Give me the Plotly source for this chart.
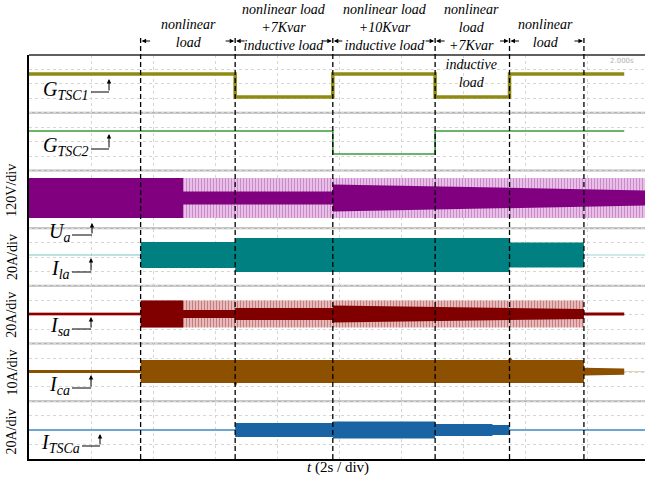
import plotly.graph_objects as go

# ---------------- data ----------------
T_MAX = 19.87                      # visible time span, s (2 s/div)
event_t = [3.6, 6.65, 9.8, 13.1, 15.5, 17.9]
interval_text = [
    "nonlinear<br>load",
    "nonlinear load<br>+7Kvar<br>inductive load",
    "nonlinear load<br>+10Kvar<br>inductive load",
    "nonlinear<br>load<br>+7Kvar<br>inductive<br>load",
    "nonlinear<br>load",
]
scale_labels = ["120V/div", "20A/div", "20A/div", "10A/div", "20A/div"]
scale_centers = [18.6, 14.0, 10.0, 6.0, 1.9]

# gate signals (step levels, 4 y-units per channel band)
g1_t = [0, 6.65, 9.8, 13.1, 15.5, 19.2]
g1_v = [26.68, 25.09, 26.68, 25.09, 26.68, 26.68]
g2_t = [0, 9.8, 13.1, 19.2]
g2_v = [22.73, 21.14, 22.73, 22.73]

# U_a envelope
ua_center = 18.09
ua_t = [0, 4.97, 4.97, 9.8, 9.8, 19.87]
ua_env = [1.39, 1.39, 1.39, 1.39, 1.39, 1.39]
ua_core = [1.39, 1.39, 0.45, 0.45, 0.94, 0.52]

# I_la envelope
ila_center = 14.14
ila_t = [3.6, 6.65, 6.65, 15.5, 15.5, 17.9]
ila_amp = [0.90, 0.90, 1.18, 1.18, 0.87, 0.87]

# I_sa envelope
isa_center = 10.05
isa_t = [3.6, 4.97, 4.97, 6.65, 6.65, 9.8, 9.8, 17.9]
isa_env = [0.94, 0.94, 0.94, 0.94, 0.94, 0.94, 0.94, 0.94]
isa_core = [0.94, 0.94, 0.28, 0.28, 0.42, 0.42, 0.59, 0.35]
isa_tail_t = [17.9, 19.2]
isa_tail_amp = [0.11, 0.10]

# I_ca envelope
ica_center = 6.06
ica_t = [3.6, 6.6, 6.66, 6.72, 15.45, 15.52, 15.6, 17.9]
ica_up = [0.80, 0.80, 0.80, 0.80, 0.80, 1.00, 0.80, 0.80]
ica_lo = [0.80, 0.80, 1.07, 0.80, 0.80, 0.80, 0.80, 0.80]
ica_tail_t = [17.9, 19.2]
ica_tail_amp = [0.27, 0.22]

# I_TSCa envelope
it_center = 2.01
it_t = [6.65, 9.8, 9.8, 13.1, 13.1, 14.95, 14.95, 15.5]
it_amp = [0.49, 0.49, 0.59, 0.59, 0.42, 0.42, 0.35, 0.35]

# ---------------- helpers ----------------
L, T, B, W, H = 29, 55, 25, 645, 484
PLOT_H = H - T - B
Y_MAX = 28


def tx(px):
    return (px - L) / ((W - L) / T_MAX)


def ty(py):
    return (T + PLOT_H - py) / (PLOT_H / Y_MAX)


def band(t, center, up, lo=None):
    lo = up if lo is None else lo
    xs = list(t) + list(t)[::-1]
    ys = [center + a for a in up] + [center - a for a in lo][::-1]
    return xs, ys


SERIF = "Liberation Serif, Times New Roman, serif"
fig = go.Figure()


def poly(xs, ys, color, pattern=None):
    kw = dict(x=xs, y=ys, mode="lines", fill="toself", fillcolor=color,
              line=dict(width=0, color=color), hoverinfo="skip", showlegend=False)
    if pattern:
        kw["fillpattern"] = pattern
    fig.add_trace(go.Scatter(**kw))


def line(xs, ys, color, width, shape="linear"):
    fig.add_trace(go.Scatter(x=xs, y=ys, mode="lines", hoverinfo="skip", showlegend=False,
                             line=dict(color=color, width=width, shape=shape)))


# gate signals
line(g1_t, g1_v, "#8f8a12", 3.5, "hv")
line(g2_t, g2_v, "#3d9a3d", 1.6, "hv")

# U_a
xs, ys = band(ua_t, ua_center, ua_env)
poly(xs, ys, "#e6bde6", dict(shape="|", bgcolor="#ecc9ec", fgcolor="#a64ea6", size=3, solidity=0.45))
xs, ys = band(ua_t, ua_center, ua_core)
poly(xs, ys, "#800080")

# I_la
line([0, event_t[0]], [ila_center, ila_center], "#7fc4c4", 1.2)
line([event_t[-1], T_MAX], [ila_center, ila_center], "#9fd2d2", 1.2)
xs, ys = band(ila_t, ila_center, ila_amp)
poly(xs, ys, "#008080")

# I_sa
line([0, event_t[0]], [isa_center, isa_center], "#e3a6a6", 4)
line([0, event_t[0]], [isa_center, isa_center], "#8a0000", 1.8)
xs, ys = band(isa_t, isa_center, isa_env)
poly(xs, ys, "#e2b0b0", dict(shape="|", bgcolor="#ecc6c6", fgcolor="#a23434", size=3, solidity=0.45))
xs, ys = band(isa_t, isa_center, isa_core)
poly(xs, ys, "#800000")
xs, ys = band(isa_tail_t, isa_center, isa_tail_amp)
poly(xs, ys, "#8a0000")

# I_ca
line([0, event_t[0]], [ica_center, ica_center], "#8c5000", 3)
line([19.2, T_MAX], [ica_center, ica_center], "#e2cfb8", 1)
xs, ys = band(ica_t, ica_center, ica_up, ica_lo)
poly(xs, ys, "#8c5000")
xs, ys = band(ica_tail_t, ica_center, ica_tail_amp)
poly(xs, ys, "#8c5000")

# I_TSCa
line([0, event_t[1]], [it_center, it_center], "#6fa5cf", 2)
line([it_t[-1], T_MAX], [it_center, it_center], "#6fa5cf", 2)
xs, ys = band(it_t, it_center, it_amp)
poly(xs, ys, "#1a64a3")

# ---------------- grid, borders, markers ----------------
shapes = []
for k in range(1, 7):
    shapes.append(dict(type="line", xref="paper", yref="y", x0=0, x1=1, y0=4 * k, y1=4 * k,
                       line=dict(color="#b4b4b4", width=2), layer="below"))
shapes.append(dict(type="line", xref="paper", yref="paper", x0=0, x1=1, y0=1, y1=1,
                   line=dict(color="#606060", width=2)))
for t in event_t:
    shapes.append(dict(type="line", xref="x", yref="paper", x0=t, x1=t, y0=0,
                       y1=(T + PLOT_H - 35) / PLOT_H,
                       line=dict(color="black", width=1.3, dash="5px,3px")))

annotations = []
# interval arrows
ya = (T + PLOT_H - 41) / PLOT_H
for i, t in enumerate(event_t):
    if i > 0:
        annotations.append(dict(x=t, y=ya, xref="x", yref="paper", text="", showarrow=True,
                                ax=-11, ay=0, arrowhead=2, arrowsize=0.9, arrowwidth=1,
                                arrowcolor="black", standoff=1))
    if i < len(event_t) - 1:
        annotations.append(dict(x=t, y=ya, xref="x", yref="paper", text="", showarrow=True,
                                ax=11, ay=0, arrowhead=2, arrowsize=0.9, arrowwidth=1,
                                arrowcolor="black", standoff=1))
# interval texts
text_px = [(188, 34), (284, 28), (385, 28), (471, 46), (545, 34)]
for txt, (px, py) in zip(interval_text, text_px):
    annotations.append(dict(x=tx(px), y=(T + PLOT_H - py) / PLOT_H, xref="x", yref="paper",
                            text="<i>" + txt + "</i>", showarrow=False, align="center",
                            font=dict(family=SERIF, size=14, color="black"),
                            xanchor="center", yanchor="middle"))

# channel labels with bent arrows
labels = [
    ("G<sub>TSC1</sub>", 91, 90, 109, 92, 79),
    ("G<sub>TSC2</sub>", 91, 146, 109, 149, 134),
    ("U<sub>a</sub>", 72, 232, 92, 235, 223),
    ("I<sub>la</sub>", 72, 269, 91, 272, 258),
    ("I<sub>sa</sub>", 72, 326, 91, 329, 317),
    ("I<sub>ca</sub>", 72, 385, 91, 388, 375),
    ("I<sub>TSCa</sub>", 82, 443, 100, 446, 434),
]
for txt, xr, yc, cx, cy, tip in labels:
    annotations.append(dict(x=tx(xr), y=ty(yc), xref="x", yref="y", text="<i>" + txt + "</i>",
                            showarrow=False, xanchor="right", yanchor="middle",
                            font=dict(family=SERIF, size=20, color="black")))
    shapes.append(dict(type="line", xref="x", yref="y", x0=tx(xr), x1=tx(cx), y0=ty(cy), y1=ty(cy),
                       line=dict(color="black", width=1)))
    annotations.append(dict(x=tx(cx), y=ty(tip), xref="x", yref="y", text="", showarrow=True,
                            ax=0, ay=cy - tip, arrowhead=2, arrowsize=0.9, arrowwidth=1,
                            arrowcolor="black", standoff=0))

# scale labels
for txt, yc in zip(scale_labels, scale_centers):
    annotations.append(dict(x=(12 - L) / (W - L), y=yc, xref="paper", yref="y", text=txt,
                            textangle=-90, showarrow=False, xanchor="center", yanchor="middle",
                            font=dict(family=SERIF, size=14, color="black")))

# axis title and scope readout
annotations.append(dict(x=(338 - L) / (W - L), y=-8 / PLOT_H, xref="paper", yref="paper",
                        text="<i>t</i> (2s / div)", showarrow=False, yanchor="middle",
                        font=dict(family=SERIF, size=15, color="black")))
annotations.append(dict(x=tx(622), y=ty(61), xref="x", yref="y", text="2.000s",
                        showarrow=False, font=dict(family="DejaVu Sans", size=7, color="#b0b0b0")))

fig.update_layout(
    width=W, height=H,
    margin=dict(l=L, r=0, t=T, b=B),
    paper_bgcolor="white", plot_bgcolor="white",
    showlegend=False,
    shapes=shapes, annotations=annotations,
    xaxis=dict(range=[0, T_MAX], dtick=2, tick0=0, showticklabels=False, ticks="",
               showgrid=True, gridcolor="#d6d6d6", griddash="dot", gridwidth=1,
               zeroline=False, showline=True, linecolor="black", linewidth=1.5,
               mirror=False, fixedrange=True),
    yaxis=dict(range=[0, Y_MAX], dtick=1, tick0=0, showticklabels=False, ticks="",
               showgrid=True, gridcolor="#d6d6d6", griddash="dot", gridwidth=1,
               zeroline=False, showline=True, linecolor="black", linewidth=1.5,
               fixedrange=True),
)

fig.write_html("out.html", config={"displayModeBar": False},
               post_script="document.body.style.margin='0';document.body.style.overflow='hidden';")
